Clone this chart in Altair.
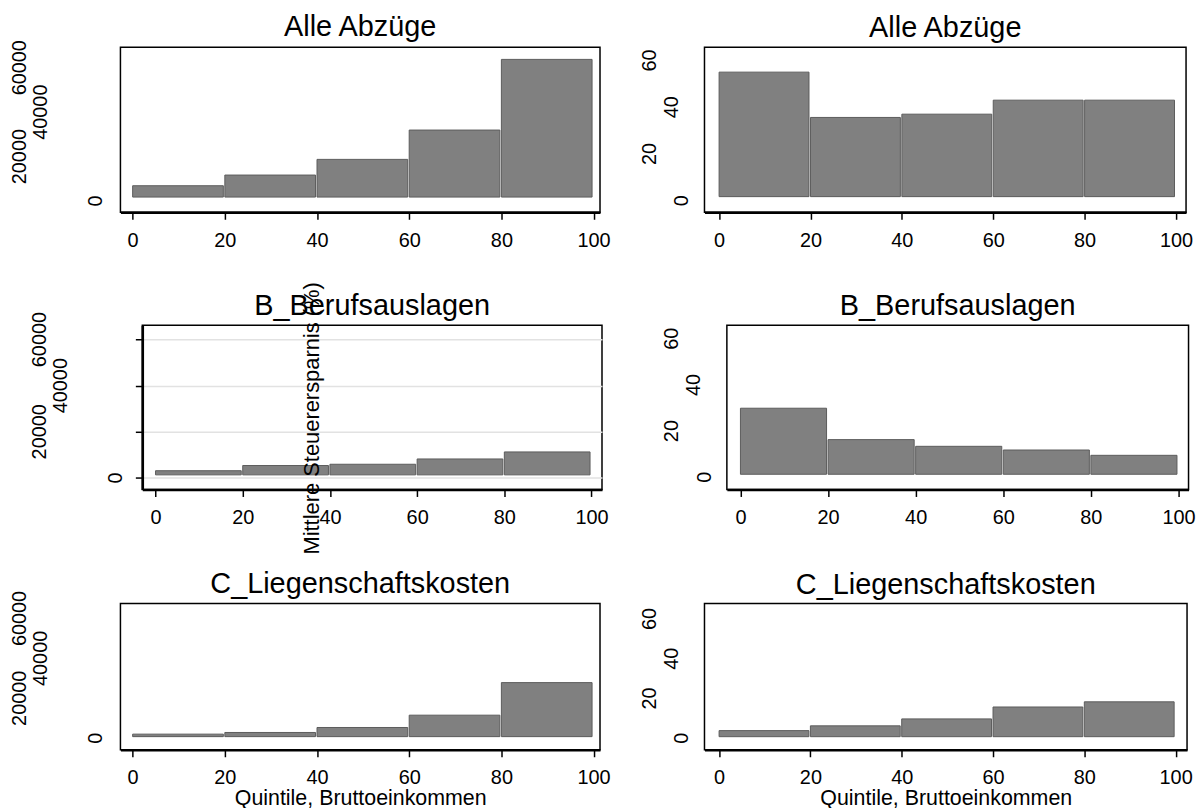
import altair as alt
import pandas as pd

FONT = "Liberation Sans"

# Quintile bins of gross income
bin_start = [0, 20, 40, 60, 80]
bin_end = [20, 40, 60, 80, 100]
x_ticks = [0, 20, 40, 60, 80, 100]

# Panel titles
title_alle = "Alle Abzüge"
title_beruf = "B_Berufsauslagen"
title_liegen = "C_Liegenschaftskosten"

# Left column: mean tax saving (amount)
alle_betrag = [6900, 11700, 18750, 31950, 63750]
beruf_betrag = [3100, 5350, 5900, 8200, 11250]
liegen_betrag = [2000, 2830, 5330, 11500, 27830]

# Right column: mean tax saving (%)
alle_prozent = [55.0, 35.6, 37.0, 43.0, 43.0]
beruf_prozent = [29.9, 16.3, 13.4, 11.8, 9.5]
liegen_prozent = [3.8, 6.2, 9.7, 15.7, 18.3]

# Tick values
ticks_betrag = [0, 20000, 40000, 60000]
ticks_prozent = [0, 20, 40, 60]

# Staggered tick-label groups (horizontal offset from the plot edge, px)
labels_betrag = [([0], -24.5), ([20000, 60000], -101.3), ([40000], -79.5)]
labels_prozent = [([0], -22.2), ([20, 60], -54.7), ([40], -33.0)]

y_title = "Mittlere Steuerersparnis (%)"
x_title = "Quintile, Bruttoeinkommen"


def label_layers(label_groups, yscale, shift=0):
    out = []
    for vals, off in label_groups:
        out.append(
            alt.Chart(pd.DataFrame({"tick": vals})).mark_text(
                angle=270, align="center", baseline="middle",
                fontSize=20, font=FONT, color="black"
            ).encode(
                y=alt.Y("tick:Q", scale=yscale, axis=None),
                x=alt.value(off + shift),
                text=alt.Text("tick:Q", format="d"),
            )
        )
    return out


def panel(values, ticks, label_groups, xdom, ydom, w, h, title, title_off,
          xtitle=None, base_off=-3, with_labels=True):
    df = pd.DataFrame({"start": bin_start, "end": bin_end, "value": values})
    xscale = alt.Scale(domain=xdom, nice=False, zero=False)
    yscale = alt.Scale(domain=ydom, nice=False, zero=False)
    xaxis = alt.Axis(values=x_ticks, grid=False, labelFlush=False,
                     title=xtitle if xtitle else None)
    bars = alt.Chart(df).mark_rect(
        fill="#808080", stroke="#5c5c5c", strokeWidth=1,
        x2Offset=-1.5, y2Offset=base_off
    ).encode(
        x=alt.X("start:Q", scale=xscale, axis=xaxis),
        x2="end:Q",
        y=alt.Y("value:Q", scale=yscale,
                axis=alt.Axis(values=ticks, labels=False, title=None, grid=True)),
        y2=alt.datum(0),
    )
    layers = [bars]
    if with_labels:
        layers += label_layers(label_groups, yscale)
    return alt.layer(*layers).properties(
        width=w, height=h,
        title=alt.TitleParams(title, fontSize=29, font=FONT, fontWeight="normal",
                              color="black", anchor="middle", frame="group",
                              offset=title_off),
    )


# Row 2 left: the tick labels live in a narrow strip so the plot sits 20px further right
beruf_ydom = [-5050, 66170]
label_strip = alt.layer(
    *label_layers(labels_betrag,
                  alt.Scale(domain=beruf_ydom, nice=False, zero=False), shift=20)
).properties(width=12.5, height=165,
             view=alt.ViewBackground(strokeOpacity=0))

row1 = alt.hconcat(
    panel(alle_betrag, ticks_betrag, labels_betrag, [-2.65, 101.4],
          [-5060, 69270], 482, 166, title_alle, -2.1, base_off=-4),
    panel(alle_prozent, ticks_prozent, labels_prozent, [-3.2, 102.2],
          [-5.0, 65.7], 484, 166, title_alle, 4, base_off=-4),
    spacing=28,
)
row2 = alt.hconcat(
    alt.hconcat(
        label_strip,
        panel(beruf_betrag, ticks_betrag, labels_betrag, [-3.03, 102.4],
              beruf_ydom, 462, 165, title_beruf, 4, base_off=-3,
              with_labels=False),
        spacing=0,
    ),
    panel(beruf_prozent, ticks_prozent, labels_prozent, [-3.1, 102.3],
          [-5.3, 65.8], 464, 165, title_beruf, 4, base_off=-3),
    spacing=52.5,
)
row3 = alt.hconcat(
    panel(liegen_betrag, ticks_betrag, labels_betrag, [-2.65, 101.4],
          [-5850, 67500], 482, 147, title_liegen, -7.7, xtitle=x_title,
          base_off=-1.5),
    panel(liegen_prozent, ticks_prozent, labels_prozent, [-3.2, 102.5],
          [-5.85, 67.8], 485, 147, title_liegen, 4, xtitle=x_title,
          base_off=-1.5),
    spacing=28,
)

chart = alt.vconcat(row1, row2, row3, spacing=40.6).properties(
    title=alt.TitleParams(y_title, orient="left", anchor="middle",
                          offset=-316.6, fontSize=22, font=FONT,
                          fontWeight="normal", color="black", dx=-7.3),
    padding={"left": 0, "top": 2.3, "right": 0, "bottom": 0},
    background="white",
).configure_view(
    stroke="black", strokeWidth=1.5
).configure_axis(
    domainColor="black", domainWidth=2.5, tickColor="black", tickWidth=1.5,
    tickSize=7, labelFont=FONT, labelFontSize=20, labelColor="black",
    labelPadding=11, gridColor="#e2e2e2", gridWidth=1.5, titleFont=FONT,
    titleFontSize=21.5, titleFontWeight="normal", titleColor="black",
    titlePadding=0,
)

chart.save("out.html", embed_options={"renderer": "svg", "actions": False})
